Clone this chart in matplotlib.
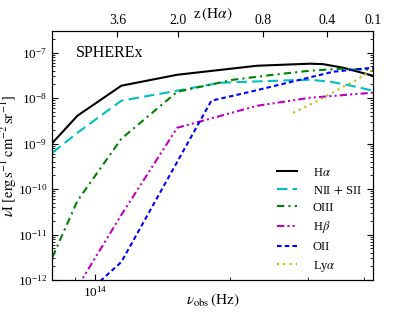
import matplotlib
matplotlib.use('Agg')
import matplotlib.pyplot as plt
from matplotlib.ticker import LogLocator, NullLocator, NullFormatter, FixedLocator, FixedFormatter

plt.rcParams['font.family'] = ['Liberation Serif', 'DejaVu Serif']
plt.rcParams['mathtext.fontset'] = 'stix'

# observed frequency in units of 1e14 Hz, intensity in erg/s/cm^2/sr
ha_nu = [0.802, 0.912, 1.144, 1.526, 2.305, 3.029, 3.238, 3.589, 4.19]
ha_I = [1.04e-9, 4.1e-9, 1.88e-8, 3.27e-8, 5.17e-8, 5.73e-8, 5.6e-8, 4.68e-8, 3.11e-8]

nii_nu = [0.802, 0.912, 1.144, 1.526, 1.905, 2.732, 3.029, 3.357, 3.664, 4.19]
nii_I = [6.3e-10, 1.73e-9, 8.8e-9, 1.46e-8, 2.18e-8, 2.48e-8, 2.54e-8, 2.3e-8, 1.97e-8, 1.46e-8]

oiii_nu = [0.802, 0.912, 1.144, 1.526, 2.037, 2.502, 3.029, 3.534, 4.19]
oiii_I = [3.2e-12, 5.5e-11, 1.28e-9, 1.38e-8, 2.54e-8, 3.27e-8, 4.02e-8, 4.44e-8, 4.23e-8]

hb_nu = [0.912, 1.144, 1.526, 2.305, 3.029, 4.19]
hb_I = [7e-13, 2.7e-11, 2.23e-9, 6.8e-9, 1.02e-8, 1.32e-8]

oii_nu = [0.912, 1.144, 1.82, 2.223, 2.876, 3.409, 4.19]
oii_I = [3.3e-13, 2.49e-12, 8.8e-9, 1.38e-8, 2.54e-8, 3.81e-8, 4.68e-8]

lya_nu = [2.775, 3.156, 3.589, 3.819, 4.19]
lya_I = [4.77e-9, 8.8e-9, 1.78e-8, 2.42e-8, 4.23e-8]

z_ticks_nu = [1.121, 1.535, 2.377, 3.30, 4.19]
z_tick_labels = ['3.6', '2.0', '0.8', '0.4', '0.1']

fig = plt.figure(figsize=(4.15, 3.12), dpi=100)
ax = fig.add_axes([0.1253, 0.1026, 0.7735, 0.798])

def f(v):
    return [x * 1e14 for x in v]

ax.plot(f(ha_nu), ha_I, color='k', lw=1.5, label=r'H$\alpha$')
ax.plot(f(nii_nu), nii_I, color='c', lw=1.5, ls=(0, (5, 2.5)), label=r'NII$\,+\,$SII')
ax.plot(f(oiii_nu), oiii_I, color='g', lw=1.5, ls=(0, (3.5, 2, 1, 2)), label='OIII')
ax.plot(f(hb_nu), hb_I, color='m', lw=1.5, ls=(0, (3.5, 1.5, 1, 1.5, 1, 1.5)), label=r'H$\beta$')
ax.plot(f(oii_nu), oii_I, color='b', lw=1.5, ls=(0, (2.2, 1.5)), label='OII')
ax.plot(f(lya_nu), lya_I, color='y', lw=1.5, ls=(0, (1, 2)), label=r'Ly$\alpha$')

ax.set_xscale('log')
ax.set_yscale('log')
ax.set_xlim(0.80e14, 4.19e14)
ax.set_ylim(1e-12, 3e-7)

ax.xaxis.set_major_locator(FixedLocator([1e14]))
ax.xaxis.set_minor_locator(FixedLocator([9e13, 2e14, 3e14, 4e14]))
ax.xaxis.set_minor_formatter(NullFormatter())
ax.yaxis.set_major_locator(LogLocator(base=10, numticks=10))
ax.yaxis.set_minor_locator(LogLocator(base=10, subs=range(2, 10), numticks=20))
ax.yaxis.set_minor_formatter(NullFormatter())
ax.tick_params(which='both', direction='in', right=True, top=False, labelsize=9.5)
ax.tick_params(which='major', length=4, width=0.8)
ax.tick_params(which='minor', length=2.5, width=0.6)

ax.set_xlabel(r'$\nu_{\rm obs}\,({\rm Hz})$', fontsize=11)
ax.xaxis.set_label_coords(0.5, -0.045)
ax.set_ylabel(r'$\nu{\rm I}\;[{\rm erg\,s^{-1}\,cm^{-2}\,sr^{-1}}]$', fontsize=10.5)
ax.yaxis.set_label_coords(-0.102, 0.5)

ax.text(0.075, 0.91, 'SPHEREx', transform=ax.transAxes, fontsize=11.5, va='center')

top = ax.twiny()
top.set_xscale('log')
top.set_xlim(ax.get_xlim())
top.xaxis.set_major_locator(FixedLocator(f(z_ticks_nu)))
top.xaxis.set_major_formatter(FixedFormatter(z_tick_labels))
top.xaxis.set_minor_locator(NullLocator())
top.tick_params(direction='in', length=4, width=0.8, labelsize=10, pad=3)
top.set_xlabel(r'z$\,({\rm H}\alpha)$', fontsize=11)
top.xaxis.set_label_coords(0.5, 1.05)

ax.legend(loc='lower right', bbox_to_anchor=(1.0, -0.02), frameon=False, fontsize=9,
          handlelength=1.6, labelspacing=0.45, handletextpad=1.3)

fig.savefig('out.png', dpi=100)
